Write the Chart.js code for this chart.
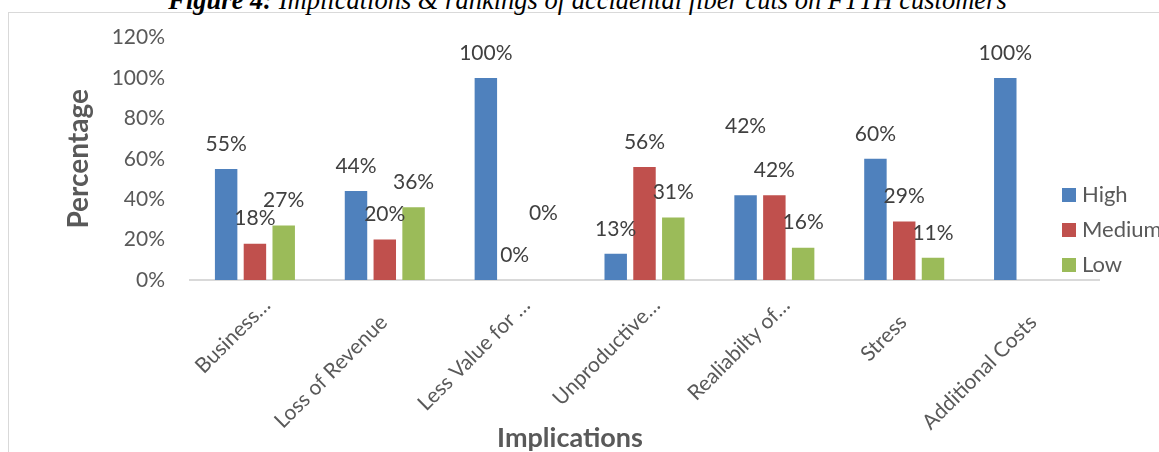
<!DOCTYPE html>
<html>
<head>
<meta charset="utf-8">
<title>Implications of accidental fiber cuts</title>
<script src="https://cdn.jsdelivr.net/npm/chart.js@4/dist/chart.umd.min.js"></script>
<style>
  html, body { margin: 0; padding: 0; width: 1159px; height: 452px; overflow: hidden; background: #fff; }
  #frame { position: absolute; left: 8px; top: 12px; width: 1200px; height: 500px; border: 1px solid #d9d9d9; box-sizing: border-box; }
  #caption { position: absolute; left: 8px; top: -15px; width: 1159px; text-align: center; white-space: nowrap;
             font-family: "Liberation Serif", serif; font-style: italic; font-size: 26.5px; line-height: 30px; color: #000; }
  #wrap { position: absolute; left: 0; top: 0; width: 1159px; height: 452px; }
</style>
</head>
<body>
<div id="frame"></div>
<div id="caption"><b>Figure 4:</b> Implications &amp; rankings of accidental fiber cuts on FTTH customers</div>
<div id="wrap"><canvas id="chart"></canvas></div>
<script>
// ---- data ----
const categories = ['Business…', 'Loss of Revenue', 'Less Value for …', 'Unproductive…', 'Realiabilty of…', 'Stress', 'Additional Costs'];
const seriesNames = ['High', 'Medium', 'Low'];
const highValues   = [55, 44, 100, 13, 42, 60, 100];
const mediumValues = [18, 20, 0, 56, 42, 29, null];
const lowValues    = [27, 36, 0, 31, 16, 11, null];
const yTickValues  = [0, 20, 40, 60, 80, 100, 120];

// ---- styling ----
const seriesColors = ['#4f81bd', '#c0504d', '#9bbb59'];
const textFont = 'Lato, "Open Sans", sans-serif';
const tickColor = '#595959';
const valueLabelColor = '#404040';
const valueLabelRise = 25;                 // px between bar top and label centre
const valueLabelExtraRise = [               // extra lift for a few hand-placed labels
  [0, 0, 0, 0, 44, 0, 0],
  [0, 0, 0, 0, 0, 0, 0],
  [0, 0, 42, 0, 0, 0, 0]
];
const truncatedLabelShift = [13, -17];      // long category names sit further up the slope
const legendBox = { x: 1062, y: 195, step: 35, size: 14, textGap: 20 };

const seriesValues = [highValues, mediumValues, lowValues];

const valueLabels = {
  id: 'valueLabels',
  afterDatasetsDraw(chart) {
    const ctx = chart.ctx;
    ctx.save();
    ctx.font = '21px ' + textFont;
    ctx.fillStyle = valueLabelColor;
    ctx.textAlign = 'center';
    ctx.textBaseline = 'middle';
    chart.data.datasets.forEach((ds, i) => {
      const meta = chart.getDatasetMeta(i);
      meta.data.forEach((bar, j) => {
        const v = ds.data[j];
        if (v === null || v === undefined) return;
        ctx.fillText(v + '%', bar.x, bar.y - valueLabelRise - valueLabelExtraRise[i][j]);
      });
    });
    ctx.restore();
  }
};

const shiftTruncatedTicks = {
  id: 'shiftTruncatedTicks',
  beforeDraw(chart) {
    const scale = chart.scales.x;
    scale.getLabelItems(chart.chartArea).forEach(item => {
      if (item._shifted) return;
      item._shifted = true;
      if (String(item.label).endsWith('…')) {
        item.options.translation[0] += truncatedLabelShift[0];
        item.options.translation[1] += truncatedLabelShift[1];
      }
    });
  }
};

const sideLegend = {
  id: 'sideLegend',
  afterDraw(chart) {
    const ctx = chart.ctx;
    ctx.save();
    ctx.font = '22px ' + textFont;
    ctx.textBaseline = 'middle';
    ctx.textAlign = 'left';
    chart.data.datasets.forEach((ds, i) => {
      const cy = legendBox.y + i * legendBox.step;
      ctx.fillStyle = ds.backgroundColor;
      ctx.fillRect(legendBox.x, cy - legendBox.size / 2, legendBox.size, legendBox.size);
      ctx.fillStyle = tickColor;
      ctx.fillText(ds.label, legendBox.x + legendBox.textGap, cy);
    });
    ctx.restore();
  }
};

new Chart(document.getElementById('chart'), {
  type: 'bar',
  data: {
    labels: categories,
    datasets: seriesNames.map((name, i) => ({
      label: name,
      data: seriesValues[i],
      backgroundColor: seriesColors[i],
      categoryPercentage: 0.665,
      barPercentage: 0.78
    }))
  },
  options: {
    responsive: true,
    maintainAspectRatio: false,
    devicePixelRatio: 1,
    animation: false,
    layout: { padding: { left: 41, right: 60, top: 35, bottom: 0 } },
    plugins: {
      legend: { display: false },
      tooltip: { enabled: false },
      title: {
        display: true,
        position: 'bottom',
        text: 'Implications',
        color: tickColor,
        font: { family: textFont, size: 27, weight: 'bold', lineHeight: 1 },
        // the axis title overlaps the bottom of the slanted category names
        padding: { top: -20, bottom: 0 }
      }
    },
    scales: {
      x: {
        grid: { display: false, drawTicks: false },
        border: { display: true, color: '#d9d9d9', width: 2 },
        ticks: {
          autoSkip: false, minRotation: 45, maxRotation: 45,
          padding: 30, labelOffset: -1,
          color: tickColor, font: { family: textFont, size: 21 }
        },
        afterFit(scale) { scale.height = 165; }
      },
      y: {
        min: 0, max: 120,
        grid: { display: false, drawTicks: false },
        border: { display: false },
        afterBuildTicks(scale) { scale.ticks = yTickValues.map(v => ({ value: v })); },
        ticks: {
          padding: 25, color: tickColor, font: { family: textFont, size: 21 },
          callback: v => v + '%'
        },
        title: {
          display: true, text: 'Percentage', color: tickColor,
          font: { family: textFont, size: 28, weight: 'bold' },
          padding: { top: 21, bottom: 0 }
        },
        afterFit(scale) { scale.width = 149; }
      }
    }
  },
  plugins: [shiftTruncatedTicks, valueLabels, sideLegend]
});
</script>
</body>
</html>
